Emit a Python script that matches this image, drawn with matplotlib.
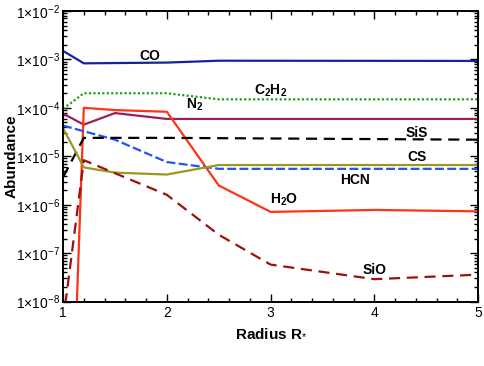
import math
import matplotlib
matplotlib.use("Agg")
import matplotlib.pyplot as plt
from matplotlib.ticker import FixedLocator, LogLocator, FuncFormatter, NullFormatter

plt.rcParams["font.family"] = ["Liberation Sans", "DejaVu Sans"]
plt.rcParams["mathtext.fontset"] = "custom"
plt.rcParams["mathtext.rm"] = "Liberation Sans"
plt.rcParams["mathtext.bf"] = "Liberation Sans:bold"

# abundance vs radius
co_r = [1.0, 1.2, 2.0, 2.5, 5.0]
co_a = [1.5e-3, 8.3e-4, 8.6e-4, 9.4e-4, 9.3e-4]

c2h2_r = [1.0, 1.2, 2.0, 2.5, 5.0]
c2h2_a = [9.5e-5, 2.0e-4, 2.0e-4, 1.5e-4, 1.5e-4]

n2_r = [1.0, 1.2, 1.5, 2.0, 5.0]
n2_a = [7.6e-5, 4.5e-5, 7.8e-5, 5.9e-5, 5.9e-5]

h2o_r = [1.0, 1.2, 1.5, 2.0, 2.5, 3.0, 4.0, 5.0]
h2o_a = [1e-16, 1.0e-4, 9.0e-5, 8.3e-5, 2.5e-6, 7.1e-7, 7.8e-7, 7.3e-7]

hcn_r = [1.0, 1.5, 2.0, 2.5, 5.0]
hcn_a = [4.3e-5, 2.2e-5, 7.6e-6, 5.5e-6, 5.5e-6]

sis_r = [1.0, 1.2, 2.0, 5.0]
sis_a = [3.7e-6, 2.4e-5, 2.4e-5, 2.2e-5]

cs_r = [1.0, 1.2, 1.5, 2.0, 2.5, 5.0]
cs_a = [3.8e-5, 5.9e-6, 4.6e-6, 4.2e-6, 6.6e-6, 6.6e-6]

sio_r = [1.0, 1.2, 2.0, 2.5, 3.0, 4.0, 5.0]
sio_a = [3.8e-9, 8.3e-6, 1.6e-6, 2.4e-7, 5.8e-8, 2.9e-8, 3.6e-8]

fig = plt.figure(figsize=(4.85, 3.66), dpi=100)
ax = fig.add_axes([0.130, 0.176, 0.856, 0.794])

lw = 1.6
ax.plot(co_r, co_a, color="#13259a", lw=lw)
ax.plot(c2h2_r, c2h2_a, color="#1ea01e", lw=lw, linestyle=(0, (1, 1)))
ax.plot(n2_r, n2_a, color="#9a1f5a", lw=lw)
ax.plot(h2o_r, h2o_a, color="#ff3316", lw=lw)
ax.plot(hcn_r, hcn_a, color="#2255ee", lw=lw, linestyle=(0, (4, 1.5)))
ax.plot(sis_r, sis_a, color="black", lw=lw, linestyle=(0, (5, 3)))
ax.plot(cs_r, cs_a, color="#999922", lw=lw)
ax.plot(sio_r, sio_a, color="#99130a", lw=lw, linestyle=(0, (5, 3)))

# curve labels
lab = dict(fontsize=10, fontweight="bold", ha="center", va="center")
ax.text(1.84, 1.2e-3, "CO", **lab)
ax.text(3.0, 2.3e-4, r"C$_\mathbf{2}$H$_\mathbf{2}$", **lab)
ax.text(2.27, 1.15e-4, r"N$_\mathbf{2}$", **lab)
ax.text(4.41, 3.0e-5, "SiS", **lab)
ax.text(4.41, 9.8e-6, "CS", **lab)
ax.text(3.81, 3.2e-6, "HCN", **lab)
ax.text(3.13, 1.26e-6, r"H$_\mathbf{2}$O", **lab)
ax.text(4.0, 4.5e-8, "SiO", **lab)

ax.set_yscale("log")
ax.set_xlim(1, 5)
ax.set_ylim(1e-8, 1e-2)

ax.xaxis.set_major_locator(FixedLocator([1, 2, 3, 4, 5]))
ax.xaxis.set_minor_locator(FixedLocator([1 + 0.2 * i for i in range(21)]))
ax.yaxis.set_major_locator(LogLocator(base=10, numticks=10))
ax.yaxis.set_minor_locator(LogLocator(base=10, subs=range(2, 10), numticks=20))
ax.yaxis.set_minor_formatter(NullFormatter())


def fmt(v, pos):
    e = int(round(math.log10(v)))
    return "1\u00d710$^{%d}$" % e


ax.yaxis.set_major_formatter(FuncFormatter(fmt))

ax.tick_params(which="both", direction="in", top=True, right=True, labelsize=10, width=1)
ax.tick_params(which="major", length=6)
ax.tick_params(which="minor", length=3)
ax.tick_params(axis="y", pad=2)
for s in ax.spines.values():
    s.set_linewidth(1.4)

ax.set_xlabel(r"Radius R$_{*}$", fontsize=11, fontweight="bold", labelpad=4)
ax.set_ylabel("Abundance", fontsize=11, fontweight="bold")
ax.yaxis.set_label_coords(-0.108, 0.5)

fig.savefig("out.png", dpi=100)
